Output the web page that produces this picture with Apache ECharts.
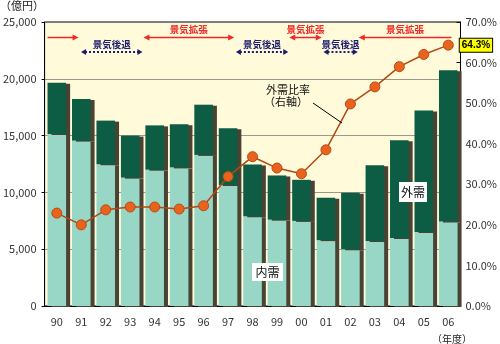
<!DOCTYPE html>
<html><head><meta charset="utf-8">
<script src="https://cdn.jsdelivr.net/npm/echarts@6/dist/echarts.min.js"></script>
<style>html,body{margin:0;padding:0;background:#fff}#c{width:500px;height:344px}</style>
</head><body><div id="c"></div>
<script>
var categories = ['90','91','92','93','94','95','96','97','98','99','00','01','02','03','04','05','06'];
var domestic = [15150,14560,12480,11300,12000,12200,13300,10650,7890,7600,7490,5800,5000,5730,5990,6520,7430];
var total    = [19650,18220,16320,15000,15900,16000,17720,15640,12450,11490,11110,9530,9970,12400,14600,17200,20760];
var foreign = total.map(function(t,i){return t - domestic[i];});
var ratio    = [22.9,20.0,23.7,24.4,24.4,23.9,24.7,31.9,36.8,34.0,32.6,38.5,49.8,54.0,59.0,62.0,64.3];
var leftTicks = [0,5000,10000,15000,20000,25000];
var rightTicks = [0,10,20,30,40,50,60,70];
// business cycle periods in category units: [start, end, kind(0=拡張,1=後退), headLeft, headRight, labelShown]
var expansions = [[0.12,1.39,0,0,1,0],[4.04,7.75,0,1,1,1],[10.0,11.33,0,1,1,1],[12.84,16.63,0,1,0,1]];
var recessions = [[1.49,4.0,1,1,1,1],[7.82,9.96,1,1,1,1],[11.4,12.8,1,1,1,1]];

var JP = '"Noto Sans CJK JP", sans-serif';
var chart = echarts.init(document.getElementById('c'), null, {renderer:'canvas'});

function renderCycle(params, api){
  var cs = params.coordSys;
  var x1 = api.coord([api.value(0), 0])[0];
  var x2 = api.coord([api.value(1), 0])[0];
  var kind = api.value(2);
  var hl = api.value(3), hr = api.value(4), lab = api.value(5);
  var color = kind === 0 ? '#F02828' : '#1C1C70';
  var y = kind === 0 ? cs.y + 15.5 : cs.y + 30;
  var ty = kind === 0 ? cs.y + 7 : cs.y + 22;
  var children = [];
  var a = kind === 0 ? 6 : 5, h = 3;
  children.push({type:'line', shape:{x1:x1 + (hl? a-1:0), y1:y, x2:x2 - (hr? a-1:0), y2:y},
    style:{stroke:color, lineWidth: kind===0?1.5:2, lineDash: kind===0? null:[2,2]}});
  if (hl) children.push({type:'polygon', shape:{points:[[x1,y],[x1+a,y-h],[x1+a,y+h]]}, style:{fill:color}});
  if (hr) children.push({type:'polygon', shape:{points:[[x2,y],[x2-a,y-h],[x2-a,y+h]]}, style:{fill:color}});
  if (lab) children.push({type:'text', style:{text: kind===0?'景気拡張':'景気後退', x:(x1+x2)/2, y:ty,
    align:'center', verticalAlign:'middle', fill:color, font:'bold 9.5px ' + JP}});
  return {type:'group', children:children};
}

var barShadow = {shadowColor:'#4a4232', shadowOffsetX:4, shadowOffsetY:1, shadowBlur:0};

chart.setOption({
  animation:false,
  grid:{left:42, right:35, top:22, bottom:38, show:true, backgroundColor:'#FFFADA', borderColor:'#000', borderWidth:1},
  xAxis:[{type:'category', data:categories, boundaryGap:true,
    axisLine:{lineStyle:{color:'#000'}}, axisTick:{show:false},
    axisLabel:{color:'#333', fontSize:11, fontFamily:JP, margin:10}},
    {type:'value', min:0, max:17, show:false}],
  yAxis:[{type:'value', min:0, max:25000, interval:5000,
      axisLine:{show:true, lineStyle:{color:'#000'}}, axisTick:{show:true, length:3, lineStyle:{color:'#000'}},
      axisLabel:{color:'#333', fontSize:11, fontFamily:JP, margin:8,
        formatter:function(v){return v.toLocaleString('en-US');}},
      splitLine:{show:true, showMaxLine:false, showMinLine:false, lineStyle:{color:'#9a9888', width:1}}},
    {type:'value', min:0, max:70, interval:10, position:'right',
      axisLine:{show:true, lineStyle:{color:'#000'}}, axisTick:{show:true, inside:true, length:4, lineStyle:{color:'#000'}},
      axisLabel:{color:'#333', fontSize:11, fontFamily:JP, margin:5, formatter:function(v){return v.toFixed(1)+'%';}},
      splitLine:{show:false}}],
  series:[
    {name:'内需', type:'bar', stack:'a', data:domestic, barWidth:'76%',
      itemStyle:Object.assign({color:'#98D6C6'}, barShadow), z:2},
    {name:'外需', type:'bar', stack:'a', data:foreign, barWidth:'76%',
      itemStyle:Object.assign({color:'#0D5C44'}, barShadow), z:2},
    {name:'外需比率', type:'line', yAxisIndex:1, data:ratio.map(function(v,i){
        if (i === ratio.length-1) return {value:v, label:{show:true, position:'right', distance:6,
          formatter:function(p){return p.value.toFixed(1)+'%';}, backgroundColor:'#FFFF00', borderColor:'#000', borderWidth:1,
          padding:[2,2,1,2], color:'#000', fontWeight:'bold', fontSize:10, fontFamily:'"Liberation Sans", sans-serif'}};
        return v;}),
      symbol:'circle', symbolSize:10, lineStyle:{color:'#B24812', width:1.5},
      itemStyle:{color:'#E8641E', borderColor:'#B84C14', borderWidth:1}, z:5},
    {type:'custom', xAxisIndex:1, yAxisIndex:0, renderItem:renderCycle, clip:false, silent:true,
      data:expansions.concat(recessions), encode:{x:[0,1]}, z:6}
  ],
  graphic:[
    {type:'text', left:0, top:0, style:{text:'（億円）', font:'11px ' + JP, fill:'#222'}},
    {type:'text', x:452, y:339, style:{text:'（年度）', font:'10px ' + JP, fill:'#222', align:'center', verticalAlign:'middle'}},
    {type:'text', x:288, y:90, style:{text:'外需比率', font:'11px ' + JP, fill:'#111', align:'center', verticalAlign:'middle'}},
    {type:'text', x:286, y:102, style:{text:'（右軸）', font:'11px ' + JP, fill:'#111', align:'center', verticalAlign:'middle'}},
    {type:'line', shape:{x1:313, y1:103, x2:342, y2:123}, style:{stroke:'#000', lineWidth:1}, z:10},
    {type:'rect', shape:{x:252, y:263, width:31, height:18}, style:{fill:'#fff'}, z:10},
    {type:'text', x:267.5, y:272, style:{text:'内需', font:'12px ' + JP, fill:'#111', align:'center', verticalAlign:'middle'}, z:11},
    {type:'rect', shape:{x:399, y:182, width:28, height:20}, style:{fill:'#fff'}, z:10},
    {type:'text', x:413, y:192, style:{text:'外需', font:'12px ' + JP, fill:'#111', align:'center', verticalAlign:'middle'}, z:11}
  ]
});
</script></body></html>
